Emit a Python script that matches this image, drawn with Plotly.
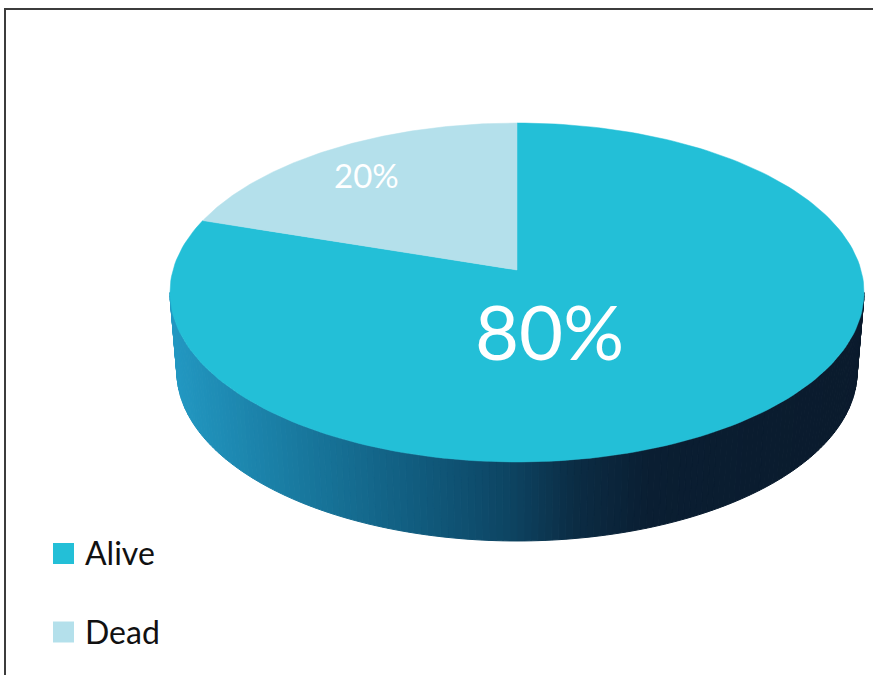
import numpy as np
import plotly.graph_objects as go

# ---- data ----
categories = ["Alive", "Dead"]
values = [80, 20]
top_colors = ["#23bfd7", "#b4e0eb"]

# ---- geometry of the tilted disc (pixel space of an 873x675 canvas) ----
W, H = 873, 675
CX, CY = 517.0, 270.0      # apex of the slices on the top face
A, B = 344.0, 166.5        # horizontal / vertical half-extent of the disc
K = -0.1327                # perspective factor (front larger than back)
DEPTH = 79.0               # thickness of the disc
BOTTOM_SCALE = 0.98        # lower rim is slightly narrower (further away)

# gradient stops for the side wall, keyed on screen x
side_stops = [
    (170, (34, 152, 194)),
    (300, (24, 120, 158)),
    (430, (16, 88, 122)),
    (510, (13, 68, 98)),
    (575, (11, 44, 68)),
    (650, (10, 30, 50)),
    (880, (10, 26, 44)),
]


def proj(theta_deg, r=1.0):
    t = np.radians(theta_deg)
    u = r * np.sin(t)
    v = -r * np.cos(t)
    w = 1 + K * v
    return CX + A * u / w, CY + B * v / w


def proj_bottom(theta_deg):
    x, y = proj(theta_deg)
    return CX + (x - CX) * BOTTOM_SCALE, y + DEPTH


def side_color(x):
    xs = [s[0] for s in side_stops]
    rgb = [np.interp(x, xs, [s[1][i] for s in side_stops]) for i in range(3)]
    return "rgb(%d,%d,%d)" % tuple(int(round(c)) for c in rgb)


fig = go.Figure()

# ---- side wall, drawn as narrow strips to build a left-to-right gradient ----
th_left = 180 + np.degrees(np.arccos(-K))   # left silhouette
th_right = 180 - np.degrees(np.arccos(-K))  # right silhouette
edges = np.linspace(th_right, th_left, 161)
for a0, a1 in zip(edges[:-1], edges[1:]):
    xt0, yt0 = proj(a0)
    xt1, yt1 = proj(a1)
    xb0, yb0 = proj_bottom(a0)
    xb1, yb1 = proj_bottom(a1)
    col = side_color((xt0 + xt1) / 2)
    fig.add_trace(go.Scatter(
        x=[xt0, xt1, xb1, xb0, xt0], y=[yt0, yt1, yb1, yb0, yt0],
        mode="lines", fill="toself", fillcolor=col,
        line=dict(color=col, width=1), hoverinfo="skip", showlegend=False))

# ---- top face slices ----
total = sum(values)
start = 0.0
for name, val, col in zip(categories, values, top_colors):
    sweep = 360.0 * val / total
    th = np.linspace(start, start + sweep, 200)
    xs, ys = proj(th)
    fig.add_trace(go.Scatter(
        x=np.concatenate([[CX], xs, [CX]]), y=np.concatenate([[CY], ys, [CY]]),
        mode="lines", fill="toself", fillcolor=col,
        line=dict(color=col, width=0.5), name=name, hoverinfo="skip",
        showlegend=False))
    start += sweep

# ---- percentage labels ----
label_pos = [(549, 330, 76), (366, 175, 33)]
for val, (lx, ly, fs) in zip(values, label_pos):
    fig.add_annotation(x=lx, y=ly, xref="x", yref="y", showarrow=False,
                       text="%d%%" % round(100 * val / total),
                       font=dict(family="Lato, Open Sans, sans-serif",
                                 size=fs, color="white"))

# ---- legend ----
leg_y = [553.5, 632]
fig.add_trace(go.Scatter(
    x=[63.5] * len(categories), y=leg_y, mode="markers",
    marker=dict(symbol="square", size=21, color=top_colors, line=dict(width=0)),
    hoverinfo="skip", showlegend=False))
for name, yy in zip(categories, leg_y):
    fig.add_annotation(x=83, y=yy - 1, xref="x", yref="y", showarrow=False,
                       xanchor="left", yanchor="middle", text=name,
                       font=dict(family="Lato, Open Sans, sans-serif",
                                 size=32, color="#111111"))

# ---- chart frame ----
fig.add_shape(type="rect", xref="x", yref="y", x0=5, y0=9, x1=900, y1=700,
              line=dict(color="#3c3c3c", width=2), fillcolor="rgba(0,0,0,0)")

fig.update_layout(
    width=W, height=H, margin=dict(l=0, r=0, t=0, b=0),
    paper_bgcolor="white", plot_bgcolor="white", showlegend=False,
    xaxis=dict(range=[0, W], visible=False, fixedrange=True),
    yaxis=dict(range=[H, 0], visible=False, fixedrange=True),
)

fig.write_html("out.html", config={"displayModeBar": False})
